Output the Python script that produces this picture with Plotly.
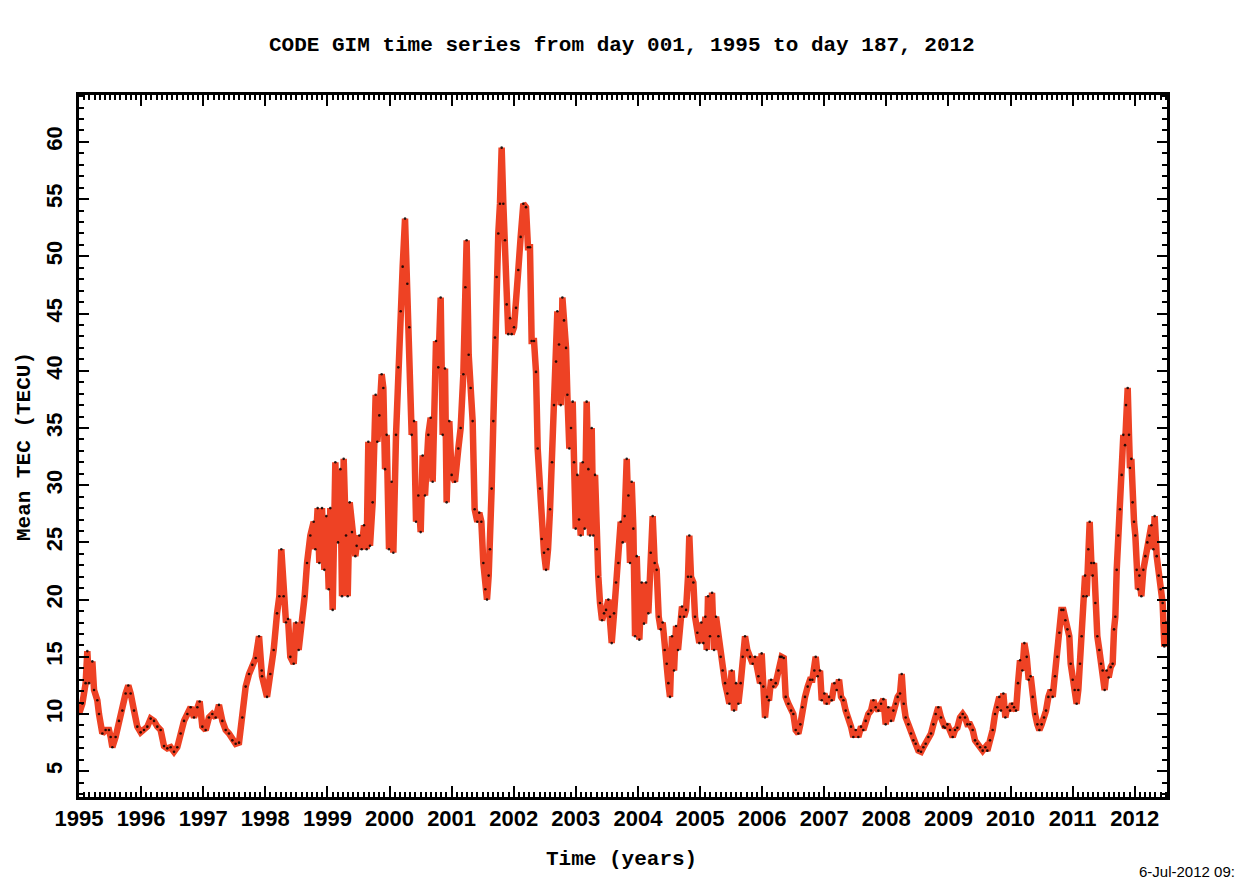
import plotly.graph_objects as go

# Daily-mean global TEC from CODE GIMs, read as decimal year / TECU
t_year = [
    1995.000, 1995.054, 1995.107, 1995.134, 1995.161, 1995.215, 1995.242, 1995.295, 1995.322, 1995.376,
    1995.429, 1995.483, 1995.510, 1995.537, 1995.590, 1995.644, 1995.698, 1995.751, 1995.794, 1995.832,
    1995.886, 1995.939, 1995.993,
    1996.047, 1996.100, 1996.154, 1996.208, 1996.261, 1996.315, 1996.369, 1996.422, 1996.476, 1996.530,
    1996.583, 1996.637, 1996.691, 1996.745, 1996.798, 1996.852, 1996.906, 1996.943, 1996.986,
    1997.040, 1997.093, 1997.147, 1997.201, 1997.254, 1997.308, 1997.362, 1997.415, 1997.469, 1997.523,
    1997.577, 1997.630, 1997.684, 1997.738, 1997.791, 1997.845, 1997.899, 1997.942,
    1997.947, 1998.028, 1998.081, 1998.135, 1998.189, 1998.226, 1998.258, 1998.296, 1998.333, 1998.366,
    1998.403, 1998.457, 1998.495, 1998.537, 1998.591, 1998.634, 1998.672, 1998.725, 1998.779, 1998.806,
    1998.843, 1998.870, 1998.913, 1998.951, 1998.983,
    1999.021, 1999.047, 1999.085, 1999.128, 1999.171, 1999.208, 1999.235, 1999.262, 1999.300, 1999.327,
    1999.359, 1999.396, 1999.450, 1999.471, 1999.514, 1999.552, 1999.589, 1999.632, 1999.659, 1999.686,
    1999.729, 1999.777, 1999.804, 1999.836, 1999.874, 1999.901, 1999.928, 1999.954, 1999.992,
    2000.035, 2000.062, 2000.105, 2000.142, 2000.180, 2000.212, 2000.250, 2000.287, 2000.319, 2000.357,
    2000.395, 2000.427, 2000.464, 2000.502, 2000.534, 2000.572, 2000.625, 2000.663, 2000.695, 2000.749,
    2000.786, 2000.824, 2000.856, 2000.894, 2000.920, 2000.963,
    2001.001, 2001.055, 2001.108, 2001.146, 2001.189, 2001.221, 2001.242, 2001.275, 2001.307, 2001.339,
    2001.371, 2001.414, 2001.446, 2001.479, 2001.511, 2001.543, 2001.570, 2001.597, 2001.618, 2001.645,
    2001.672, 2001.699, 2001.725, 2001.752, 2001.779, 2001.806, 2001.833, 2001.860, 2001.887, 2001.913,
    2001.940, 2001.967,
    2002.005, 2002.037, 2002.074, 2002.112, 2002.155, 2002.198, 2002.230, 2002.262, 2002.289, 2002.327,
    2002.359, 2002.386, 2002.423, 2002.451, 2002.488, 2002.521, 2002.553, 2002.585, 2002.617, 2002.649,
    2002.682, 2002.703, 2002.730, 2002.757, 2002.784, 2002.810, 2002.843, 2002.864, 2002.896, 2002.923,
    2002.950, 2002.972, 2002.998,
    2003.025, 2003.052, 2003.079, 2003.111, 2003.143, 2003.175, 2003.202, 2003.229, 2003.256, 2003.283,
    2003.310, 2003.337, 2003.363, 2003.390, 2003.422, 2003.455, 2003.487, 2003.524, 2003.551, 2003.578,
    2003.616, 2003.648, 2003.685, 2003.723, 2003.755, 2003.787, 2003.820, 2003.847, 2003.873, 2003.900,
    2003.927, 2003.954, 2003.981,
    2004.023, 2004.061, 2004.098, 2004.131, 2004.168, 2004.206, 2004.238, 2004.270, 2004.302, 2004.335,
    2004.367, 2004.399, 2004.431, 2004.464, 2004.490, 2004.517, 2004.549, 2004.582, 2004.614, 2004.646,
    2004.678, 2004.710, 2004.743, 2004.775, 2004.807, 2004.828, 2004.855, 2004.893, 2004.920, 2004.957,
    2004.989,
    2005.022, 2005.054, 2005.086, 2005.108, 2005.129, 2005.161, 2005.194, 2005.226, 2005.258, 2005.296,
    2005.333, 2005.365, 2005.403, 2005.440, 2005.473, 2005.510, 2005.548, 2005.580, 2005.618, 2005.655,
    2005.687, 2005.725, 2005.762, 2005.805, 2005.848, 2005.886, 2005.940, 2005.967, 2005.993,
    2006.020, 2006.047, 2006.079, 2006.111, 2006.144, 2006.181, 2006.219, 2006.262, 2006.289, 2006.315,
    2006.348, 2006.380, 2006.423, 2006.466, 2006.503, 2006.541, 2006.584, 2006.616, 2006.648, 2006.691,
    2006.734, 2006.772, 2006.809, 2006.841, 2006.863, 2006.895, 2006.933, 2006.960,
    2007.003, 2007.040, 2007.078, 2007.121, 2007.164, 2007.201, 2007.239, 2007.271, 2007.309, 2007.346,
    2007.389, 2007.432, 2007.469, 2007.507, 2007.550, 2007.593, 2007.630, 2007.668, 2007.711, 2007.754,
    2007.792, 2007.829, 2007.872, 2007.915, 2007.953, 2007.990,
    2008.033, 2008.076, 2008.114, 2008.151, 2008.183, 2008.221, 2008.248, 2008.280, 2008.312, 2008.355,
    2008.398, 2008.436, 2008.473, 2008.516, 2008.559, 2008.597, 2008.634, 2008.677, 2008.720, 2008.758,
    2008.795, 2008.838, 2008.881, 2008.919, 2008.946, 2008.983,
    2009.026, 2009.069, 2009.107, 2009.144, 2009.187, 2009.230, 2009.268, 2009.305, 2009.348, 2009.391,
    2009.429, 2009.466, 2009.509, 2009.552, 2009.595, 2009.627, 2009.670, 2009.713, 2009.751, 2009.788,
    2009.820, 2009.847, 2009.885, 2009.917, 2009.949, 2009.992,
    2010.024, 2010.057, 2010.089, 2010.121, 2010.153, 2010.191, 2010.223, 2010.261, 2010.293, 2010.325,
    2010.357, 2010.395, 2010.432, 2010.465, 2010.502, 2010.540, 2010.572, 2010.610, 2010.647, 2010.679,
    2010.717, 2010.754, 2010.787, 2010.819, 2010.851, 2010.883, 2010.916, 2010.947, 2010.969,
    2011.001, 2011.033, 2011.065, 2011.092, 2011.119, 2011.146, 2011.173, 2011.200, 2011.226, 2011.253,
    2011.275, 2011.302, 2011.323, 2011.345, 2011.366, 2011.398, 2011.430, 2011.457, 2011.484, 2011.516,
    2011.548, 2011.581, 2011.613, 2011.645, 2011.667, 2011.688, 2011.710, 2011.736, 2011.763, 2011.790,
    2011.817, 2011.844, 2011.860, 2011.887, 2011.908, 2011.924, 2011.946, 2011.967, 2011.989,
    2012.010, 2012.032, 2012.053, 2012.075, 2012.107, 2012.139, 2012.171, 2012.203, 2012.236, 2012.268,
    2012.300, 2012.321, 2012.354, 2012.386, 2012.418, 2012.450, 2012.477, 2012.504,
]

tec = [
    10.0, 10.9, 12.7, 15.5, 12.7, 14.6, 12.1, 11.2, 10.0, 8.3,
    8.6, 8.6, 8.0, 7.1, 8.0, 9.4, 10.3, 11.8, 12.5, 11.8,
    10.3, 8.9, 8.4,
    8.6, 8.9, 9.6, 9.4, 8.9, 8.6, 7.2, 7.0, 7.1, 6.7,
    7.1, 8.3, 9.4, 10.0, 10.6, 9.7, 10.6, 11.1, 8.9,
    8.6, 9.7, 10.0, 9.7, 10.8, 9.4, 8.6, 8.3, 7.7, 7.4,
    7.5, 9.7, 12.4, 13.5, 14.3, 14.9, 16.8, 13.8,
    13.3, 11.5, 13.5, 15.6, 18.8, 20.3, 24.4, 20.3, 18.0, 18.3,
    15.0, 14.4, 18.0, 15.6, 18.0, 20.3, 23.2, 25.6, 26.8, 24.4,
    28.0, 23.2, 28.0, 22.6, 27.3,
    20.9, 28.0, 19.1, 32.0, 25.0, 31.4, 20.3, 32.3, 25.6, 20.3,
    28.5, 25.9, 23.8, 24.7, 25.6, 24.4, 26.5, 24.4, 33.8, 24.7,
    28.5, 37.9, 33.8, 36.1, 39.7, 38.5, 31.4, 34.4, 24.4,
    30.3, 24.1, 34.4, 40.3, 45.2, 49.1, 53.3, 47.6, 43.8, 34.4,
    35.6, 26.8, 29.1, 25.9, 32.6, 29.1, 34.4, 35.9, 30.3, 42.6,
    40.3, 46.4, 34.4, 40.2, 28.5, 35.6,
    30.9, 30.3, 33.2, 35.0, 39.7, 47.3, 51.4, 41.4, 38.5, 35.6,
    27.9, 26.8, 27.6, 26.8, 23.2, 20.9, 20.0, 22.1, 24.4, 29.7,
    35.6, 42.9, 48.2, 52.0, 54.6, 59.5, 54.6, 51.4, 45.8, 43.2,
    44.6, 43.2,
    43.8, 45.5, 48.8, 51.7, 54.6, 54.3, 50.8, 50.8, 42.6, 42.6,
    39.9, 33.2, 29.7, 25.3, 24.1, 22.6, 24.4, 27.9, 32.0, 37.0,
    40.8, 45.2, 42.3, 37.0, 46.4, 44.4, 42.0, 37.9, 33.2, 35.0,
    37.3, 32.0, 26.2,
    30.9, 27.0, 25.6, 32.0, 26.2, 37.3, 31.4, 25.6, 35.0, 25.6,
    30.9, 24.4, 22.0, 19.7, 18.2, 18.8, 19.1, 20.0, 18.5, 16.2,
    18.8, 21.5, 23.2, 26.8, 25.0, 27.3, 32.3, 29.1, 23.2, 30.3,
    26.2, 16.8, 23.8,
    16.5, 21.5, 17.9, 21.5, 18.8, 24.1, 27.3, 23.2, 22.6, 18.5,
    17.4, 18.0, 15.6, 14.4, 12.7, 11.5, 16.8, 13.8, 17.7, 15.6,
    18.5, 19.4, 18.5, 19.1, 22.0, 25.6, 22.0, 21.5, 18.5, 17.1,
    16.2,
    18.0, 16.2, 18.5, 15.6, 20.3, 16.8, 20.6, 15.6, 18.5, 16.8,
    15.0, 13.8, 12.7, 11.8, 10.9, 13.8, 10.3, 12.7, 10.9, 12.7,
    15.0, 16.8, 15.6, 15.0, 14.4, 15.0, 13.3, 12.7, 15.3,
    12.4, 9.7, 11.5, 11.2, 13.0, 12.4, 12.7, 13.8, 15.0, 15.0,
    14.9, 11.5, 10.9, 10.3, 10.0, 8.6, 8.3, 9.1, 10.6, 11.5,
    12.4, 13.0, 13.0, 13.8, 15.0, 13.3, 13.8, 11.2,
    11.8, 10.9, 11.5, 11.2, 12.7, 12.1, 13.0, 11.5, 11.2, 10.3,
    9.7, 8.9, 8.0, 8.6, 8.0, 8.9, 8.6, 9.4, 10.0, 10.3,
    11.2, 10.6, 10.3, 10.9, 11.3, 9.1,
    10.6, 9.4, 10.3, 10.9, 11.5, 11.8, 13.5, 10.9, 9.7, 9.1,
    8.3, 7.7, 7.4, 6.8, 6.7, 7.1, 7.4, 8.0, 8.3, 9.1,
    10.0, 10.6, 9.7, 8.9, 8.8, 9.1,
    8.6, 8.0, 8.6, 8.8, 9.7, 10.0, 9.7, 9.1, 9.1, 8.6,
    7.7, 7.4, 7.1, 6.8, 7.1, 6.8, 7.7, 8.6, 10.0, 10.6,
    11.5, 10.3, 11.8, 9.7, 10.6, 10.3,
    10.9, 10.6, 10.3, 12.7, 14.7, 13.8, 16.2, 15.0, 13.0, 13.3,
    11.5, 10.0, 9.1, 8.6, 9.1, 9.7, 10.3, 11.5, 12.1, 11.5,
    13.3, 15.0, 17.1, 19.1, 19.1, 18.2, 17.4, 16.8, 14.4,
    13.0, 12.1, 10.9, 12.1, 14.4, 16.8, 20.3, 22.1, 20.3, 24.4,
    26.8, 23.2, 22.1, 23.2, 19.7, 16.8, 15.6, 14.4, 13.8, 12.1,
    13.8, 13.2, 14.1, 14.4, 17.4, 18.5, 22.6, 25.6, 27.9, 30.9,
    34.4, 33.5, 37.0, 38.5, 34.4, 31.5, 32.3, 28.5, 26.8,
    25.6, 22.6, 20.9, 22.1, 20.3, 22.6, 23.8, 25.0, 25.6, 26.5,
    24.4, 27.3, 23.8, 22.1, 20.9, 19.7, 15.9, 18.0,
]

x_major_ticks = [1995, 1996, 1997, 1998, 1999, 2000, 2001, 2002, 2003,
                 2004, 2005, 2006, 2007, 2008, 2009, 2010, 2011, 2012]

RED = "rgb(238,66,36)"
LABEL_FONT = "Liberation Sans"
TITLE_FONT = "Liberation Mono"

fig = go.Figure()

# Thick red time series
fig.add_trace(go.Scatter(
    x=t_year, y=tec, mode="lines",
    line=dict(color=RED, width=6.5),
    hoverinfo="skip", showlegend=False,
))
# Daily values as small black dots
fig.add_trace(go.Scatter(
    x=t_year, y=tec, mode="markers",
    marker=dict(color="black", size=2.6, opacity=0.85),
    hoverinfo="skip", showlegend=False,
))

axis_common = dict(
    showline=True, linecolor="black", linewidth=3,
    mirror="allticks", ticks="inside", tickcolor="black",
    showgrid=False, zeroline=False,
    tickfont=dict(family=LABEL_FONT, size=22, color="black", weight="bold"),
)

fig.update_xaxes(
    **axis_common,
    range=[1995.0, 2012.52],
    tickmode="array", tickvals=x_major_ticks, ticktext=[str(v) for v in x_major_ticks],
    ticklen=11, tickwidth=2,
    ticklabelstandoff=0,
    minor=dict(ticks="inside", dtick=1 / 12, tick0=1995, ticklen=5,
               tickwidth=1.5, tickcolor="black"),
)
fig.update_yaxes(
    **axis_common,
    range=[2.75, 64.1],
    tickmode="linear", tick0=0, dtick=5,
    tickangle=-90,
    ticklen=10, tickwidth=2,
    ticklabelstandoff=5,
    minor=dict(ticks="inside", dtick=1, tick0=0, ticklen=5,
               tickwidth=1.5, tickcolor="black"),
)

fig.update_layout(
    width=1239, height=883,
    margin=dict(l=79, r=72, t=95, b=86),
    paper_bgcolor="white", plot_bgcolor="white",
    annotations=[
        dict(text="CODE GIM time series from day 001, 1995 to day 187, 2012",
             xref="paper", yref="paper", x=0.499, y=1.071,
             xanchor="center", yanchor="middle", showarrow=False,
             font=dict(family=TITLE_FONT, size=21, color="black", weight="bold")),
        dict(text="Time (years)",
             xref="paper", yref="paper", x=0.499, y=-0.0897,
             xanchor="center", yanchor="middle", showarrow=False,
             font=dict(family=TITLE_FONT, size=21, color="black", weight="bold")),
        dict(text="Mean TEC (TECU)",
             xref="paper", yref="paper", x=-0.0496, y=0.4986,
             xanchor="center", yanchor="middle", showarrow=False, textangle=-90,
             font=dict(family=TITLE_FONT, size=21, color="black", weight="bold")),
        dict(text="6-Jul-2012 09:",
             xref="paper", yref="paper", x=1.0643, y=-0.1068,
             xanchor="right", yanchor="middle", showarrow=False,
             font=dict(family=LABEL_FONT, size=15, color="black")),
    ],
)

fig.write_html("out.html")
